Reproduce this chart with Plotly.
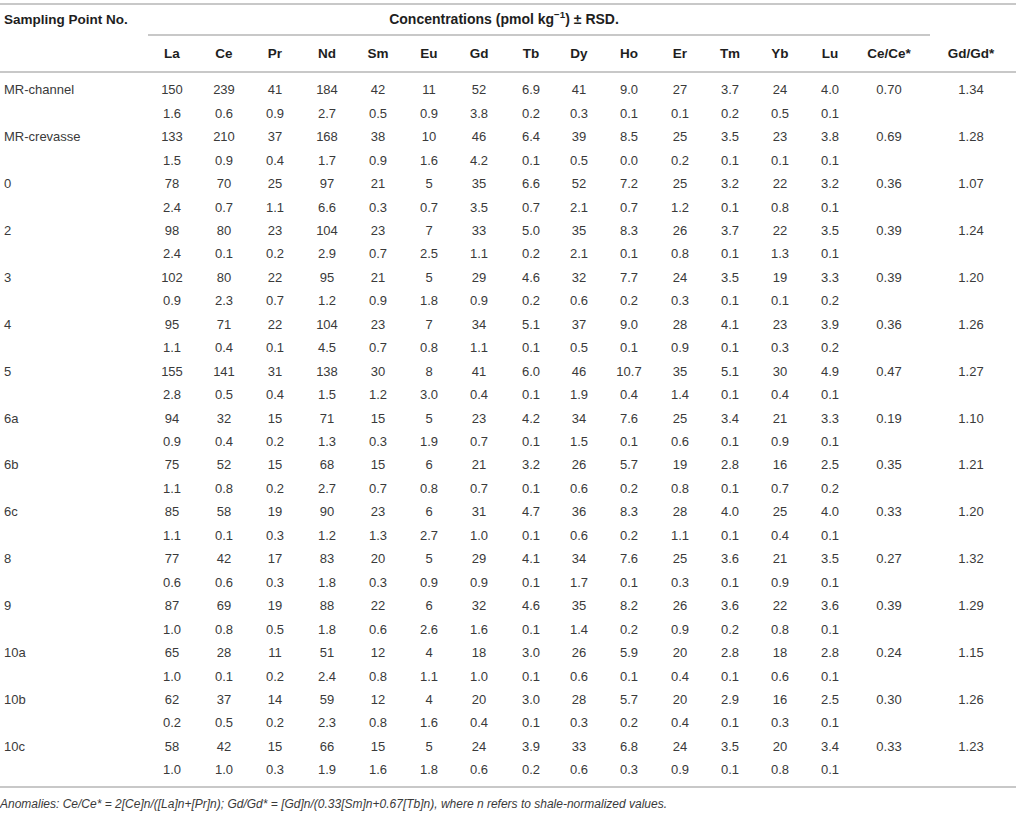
import plotly.graph_objects as go

# ---------------- data ----------------
SAMPLES = ["MR-channel", "MR-crevasse", "0", "2", "3", "4", "5", "6a", "6b", "6c",
           "8", "9", "10a", "10b", "10c"]
ELEMENTS = ["La", "Ce", "Pr", "Nd", "Sm", "Eu", "Gd", "Tb", "Dy", "Ho", "Er", "Tm", "Yb", "Lu"]

LA = [150, 133, 78, 98, 102, 95, 155, 94, 75, 85, 77, 87, 65, 62, 58]
LA_RSD = [1.6, 1.5, 2.4, 2.4, 0.9, 1.1, 2.8, 0.9, 1.1, 1.1, 0.6, 1.0, 1.0, 0.2, 1.0]
CE = [239, 210, 70, 80, 80, 71, 141, 32, 52, 58, 42, 69, 28, 37, 42]
CE_RSD = [0.6, 0.9, 0.7, 0.1, 2.3, 0.4, 0.5, 0.4, 0.8, 0.1, 0.6, 0.8, 0.1, 0.5, 1.0]
PR = [41, 37, 25, 23, 22, 22, 31, 15, 15, 19, 17, 19, 11, 14, 15]
PR_RSD = [0.9, 0.4, 1.1, 0.2, 0.7, 0.1, 0.4, 0.2, 0.2, 0.3, 0.3, 0.5, 0.2, 0.2, 0.3]
ND = [184, 168, 97, 104, 95, 104, 138, 71, 68, 90, 83, 88, 51, 59, 66]
ND_RSD = [2.7, 1.7, 6.6, 2.9, 1.2, 4.5, 1.5, 1.3, 2.7, 1.2, 1.8, 1.8, 2.4, 2.3, 1.9]
SM = [42, 38, 21, 23, 21, 23, 30, 15, 15, 23, 20, 22, 12, 12, 15]
SM_RSD = [0.5, 0.9, 0.3, 0.7, 0.9, 0.7, 1.2, 0.3, 0.7, 1.3, 0.3, 0.6, 0.8, 0.8, 1.6]
EU = [11, 10, 5, 7, 5, 7, 8, 5, 6, 6, 5, 6, 4, 4, 5]
EU_RSD = [0.9, 1.6, 0.7, 2.5, 1.8, 0.8, 3.0, 1.9, 0.8, 2.7, 0.9, 2.6, 1.1, 1.6, 1.8]
GD = [52, 46, 35, 33, 29, 34, 41, 23, 21, 31, 29, 32, 18, 20, 24]
GD_RSD = [3.8, 4.2, 3.5, 1.1, 0.9, 1.1, 0.4, 0.7, 0.7, 1.0, 0.9, 1.6, 1.0, 0.4, 0.6]
TB = [6.9, 6.4, 6.6, 5.0, 4.6, 5.1, 6.0, 4.2, 3.2, 4.7, 4.1, 4.6, 3.0, 3.0, 3.9]
TB_RSD = [0.2, 0.1, 0.7, 0.2, 0.2, 0.1, 0.1, 0.1, 0.1, 0.1, 0.1, 0.1, 0.1, 0.1, 0.2]
DY = [41, 39, 52, 35, 32, 37, 46, 34, 26, 36, 34, 35, 26, 28, 33]
DY_RSD = [0.3, 0.5, 2.1, 2.1, 0.6, 0.5, 1.9, 1.5, 0.6, 0.6, 1.7, 1.4, 0.6, 0.3, 0.6]
HO = [9.0, 8.5, 7.2, 8.3, 7.7, 9.0, 10.7, 7.6, 5.7, 8.3, 7.6, 8.2, 5.9, 5.7, 6.8]
HO_RSD = [0.1, 0.0, 0.7, 0.1, 0.2, 0.1, 0.4, 0.1, 0.2, 0.2, 0.1, 0.2, 0.1, 0.2, 0.3]
ER = [27, 25, 25, 26, 24, 28, 35, 25, 19, 28, 25, 26, 20, 20, 24]
ER_RSD = [0.1, 0.2, 1.2, 0.8, 0.3, 0.9, 1.4, 0.6, 0.8, 1.1, 0.3, 0.9, 0.4, 0.4, 0.9]
TM = [3.7, 3.5, 3.2, 3.7, 3.5, 4.1, 5.1, 3.4, 2.8, 4.0, 3.6, 3.6, 2.8, 2.9, 3.5]
TM_RSD = [0.2, 0.1, 0.1, 0.1, 0.1, 0.1, 0.1, 0.1, 0.1, 0.1, 0.1, 0.2, 0.1, 0.1, 0.1]
YB = [24, 23, 22, 22, 19, 23, 30, 21, 16, 25, 21, 22, 18, 16, 20]
YB_RSD = [0.5, 0.1, 0.8, 1.3, 0.1, 0.3, 0.4, 0.9, 0.7, 0.4, 0.9, 0.8, 0.6, 0.3, 0.8]
LU = [4.0, 3.8, 3.2, 3.5, 3.3, 3.9, 4.9, 3.3, 2.5, 4.0, 3.5, 3.6, 2.8, 2.5, 3.4]
LU_RSD = [0.1, 0.1, 0.1, 0.1, 0.2, 0.2, 0.1, 0.1, 0.2, 0.1, 0.1, 0.1, 0.1, 0.1, 0.1]
CE_ANOM = [0.70, 0.69, 0.36, 0.39, 0.39, 0.36, 0.47, 0.19, 0.35, 0.33, 0.27, 0.39, 0.24, 0.30, 0.33]
GD_ANOM = [1.34, 1.28, 1.07, 1.24, 1.20, 1.26, 1.27, 1.10, 1.21, 1.20, 1.32, 1.29, 1.15, 1.26, 1.23]

VALUES = [LA, CE, PR, ND, SM, EU, GD, TB, DY, HO, ER, TM, YB, LU]
RSDS = [LA_RSD, CE_RSD, PR_RSD, ND_RSD, SM_RSD, EU_RSD, GD_RSD, TB_RSD, DY_RSD,
        HO_RSD, ER_RSD, TM_RSD, YB_RSD, LU_RSD]

TITLE_LEFT = "Sampling Point No."
TITLE_MID = "Concentrations (pmol kg<sup>−1</sup>) ± RSD."
RATIO_HEADERS = ["Ce/Ce*", "Gd/Gd*"]
FOOTNOTE = ("<i>Anomalies: Ce/Ce* = 2[Ce]n/([La]n+[Pr]n); Gd/Gd* = [Gd]n/(0.33[Sm]n+0.67[Tb]n), "
            "where n refers to shale-normalized values.</i>")

# ---------------- layout / style ----------------
W, H = 1016, 816
FONT = "Liberation Sans, Arial, Helvetica, sans-serif"
BODY_COLOR = "#3a3a3a"
HEAD_COLOR = "#1e1e1e"
LINE_COLOR = "#c8c8c8"
BODY_SIZE = 13
HEAD_SIZE = 13.5
TITLE_SIZE = 14
FOOT_SIZE = 12

COL_X = [172, 224, 275, 327, 378, 429, 479, 531, 579, 629, 680, 730, 780, 830]
RATIO_X = [889, 971]
DECIMALS = [0, 0, 0, 0, 0, 0, 0, 1, 0, 1, 0, 1, 0, 1]
LABEL_X = 4
ROW0 = 91
STEP = 23.45

HEAD1_Y = 20.5
HEAD2_Y = 55
LINE_TOP = 4
LINE_SUB = 35
LINE_HEAD = 72
LINE_BOTTOM = 787
FOOT_Y = 805
SUB_X0, SUB_X1 = 148, 930
TITLE_X = 504

fig = go.Figure()

value_y = [ROW0 + 2 * i * STEP for i in range(len(SAMPLES))]
rsd_y = [y + STEP for y in value_y]

body_font = dict(family=FONT, size=BODY_SIZE, color=BODY_COLOR)
head_font = dict(family=FONT, size=HEAD_SIZE, color=HEAD_COLOR)

# sample labels
fig.add_trace(go.Scatter(x=[LABEL_X] * len(SAMPLES), y=value_y, mode="text",
                         text=SAMPLES, textposition="middle right",
                         textfont=body_font, hoverinfo="skip"))

# element columns
for cx, el, vals, rsd, dec in zip(COL_X, ELEMENTS, VALUES, RSDS, DECIMALS):
    fig.add_trace(go.Scatter(x=[cx] * len(vals), y=value_y, mode="text",
                             text=[f"{v:.{dec}f}" for v in vals],
                             textposition="middle center", textfont=body_font,
                             hoverinfo="skip"))
    fig.add_trace(go.Scatter(x=[cx] * len(rsd), y=rsd_y, mode="text",
                             text=[f"{v:.1f}" for v in rsd],
                             textposition="middle center", textfont=body_font,
                             hoverinfo="skip"))

# ratio columns
for cx, vals in zip(RATIO_X, [CE_ANOM, GD_ANOM]):
    fig.add_trace(go.Scatter(x=[cx] * len(vals), y=value_y, mode="text",
                             text=[f"{v:.2f}" for v in vals],
                             textposition="middle center", textfont=body_font,
                             hoverinfo="skip"))

# headers
fig.add_trace(go.Scatter(x=COL_X + RATIO_X, y=[HEAD2_Y] * (len(COL_X) + 2), mode="text",
                         text=[f"<b>{t}</b>" for t in ELEMENTS + RATIO_HEADERS],
                         textposition="middle center", textfont=head_font, hoverinfo="skip"))
fig.add_trace(go.Scatter(x=[LABEL_X], y=[HEAD1_Y], mode="text",
                         text=[f"<b>{TITLE_LEFT}</b>"], textposition="middle right",
                         textfont=head_font, hoverinfo="skip"))
fig.add_trace(go.Scatter(x=[TITLE_X], y=[HEAD1_Y], mode="text",
                         text=[f"<b>{TITLE_MID}</b>"], textposition="middle center",
                         textfont=dict(family=FONT, size=TITLE_SIZE, color=HEAD_COLOR),
                         hoverinfo="skip"))
fig.add_trace(go.Scatter(x=[0], y=[FOOT_Y], mode="text", text=[FOOTNOTE],
                         textposition="middle right",
                         textfont=dict(family=FONT, size=FOOT_SIZE, color=BODY_COLOR),
                         hoverinfo="skip"))

# rules
for y0, x0, x1 in [(LINE_TOP, 0, W), (LINE_SUB, SUB_X0, SUB_X1), (LINE_HEAD, 0, W),
                   (LINE_BOTTOM, 0, W)]:
    fig.add_shape(type="line", x0=x0, x1=x1, y0=y0, y1=y0, xref="x", yref="y",
                  line=dict(color=LINE_COLOR, width=2), layer="below")

fig.update_layout(
    width=W, height=H, margin=dict(l=0, r=0, t=0, b=0),
    paper_bgcolor="white", plot_bgcolor="white", showlegend=False,
    xaxis=dict(range=[0, W], visible=False, fixedrange=True),
    yaxis=dict(range=[H, 0], visible=False, fixedrange=True),
)

fig.write_html("out.html", config={"displayModeBar": False, "staticPlot": True},
               post_script="document.body.style.margin='0';document.body.style.overflow='hidden';")
